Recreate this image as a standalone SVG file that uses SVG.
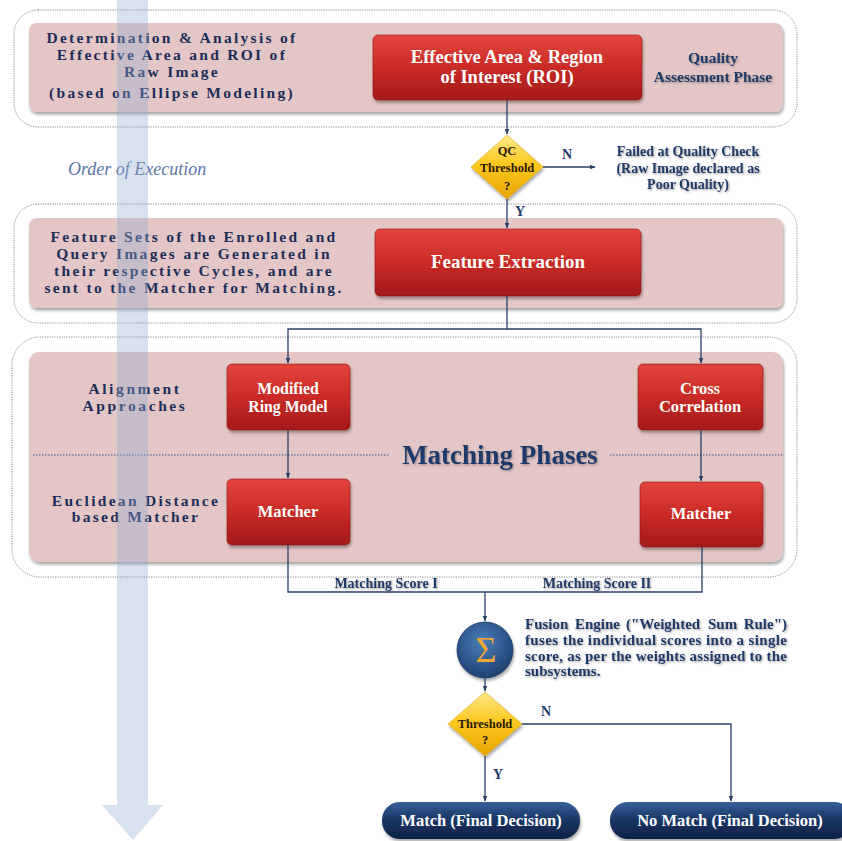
<svg xmlns="http://www.w3.org/2000/svg" width="842" height="841" viewBox="0 0 842 841">
<defs>
<linearGradient id="redG" x1="0" y1="0" x2="0" y2="1">
<stop offset="0" stop-color="#e2453c"/><stop offset="0.5" stop-color="#c92b26"/><stop offset="1" stop-color="#a3191a"/>
</linearGradient>
<linearGradient id="yelG" x1="0" y1="0" x2="0" y2="1">
<stop offset="0" stop-color="#ffe98a"/><stop offset="0.45" stop-color="#fcc820"/><stop offset="1" stop-color="#e9a400"/>
</linearGradient>
<radialGradient id="bluG" cx="0.45" cy="0.35" r="0.7">
<stop offset="0" stop-color="#4b7fb9"/><stop offset="1" stop-color="#1b3c6c"/>
</radialGradient>
<linearGradient id="navG" x1="0" y1="0" x2="0" y2="1">
<stop offset="0" stop-color="#38609a"/><stop offset="0.5" stop-color="#183462"/><stop offset="1" stop-color="#0e2245"/>
</linearGradient>
<filter id="sh" x="-10%" y="-10%" width="130%" height="140%">
<feDropShadow dx="1" dy="2.5" stdDeviation="1.8" flood-color="#000" flood-opacity="0.35"/>
</filter>
<filter id="tsh" x="-10%" y="-30%" width="120%" height="160%">
<feDropShadow dx="1" dy="1.2" stdDeviation="0.9" flood-color="#555" flood-opacity="0.55"/>
</filter>
<marker id="ah" viewBox="0 0 10 10" refX="9" refY="5" markerWidth="6" markerHeight="6" orient="auto" markerUnits="userSpaceOnUse">
<path d="M0,1 L10,5 L0,9 z" fill="#2b3f66"/>
</marker>
<style>
.outer{fill:none;stroke:#8a8a8a;stroke-width:1;stroke-dasharray:1.2 1.2}
.pink{fill:#e5c6c6}
.red{fill:url(#redG);stroke:#8e1414;stroke-width:0.6}
.rt{font-family:"Liberation Serif","Times New Roman",serif;font-weight:bold;fill:#fff;text-anchor:middle}
.lt{font-family:"Liberation Serif","Times New Roman",serif;font-weight:bold;fill:#1c2d5a;text-anchor:middle}
.nt{font-family:"Liberation Serif","Times New Roman",serif;font-weight:bold;fill:#1f3a6a}
.dt{font-family:"Liberation Serif","Times New Roman",serif;font-weight:bold;fill:#2a1a00;text-anchor:middle;font-size:12.5px}
.con{fill:none;stroke:#2b3f66;stroke-width:1.3}
</style>
</defs>
<rect width="842" height="841" fill="#fff"/>

<g id="panel-quality">
<rect class="outer" x="14" y="10" width="783" height="117" rx="24"/>
<rect class="pink" x="29" y="23" width="754" height="89" rx="8" filter="url(#sh)"/>
<text class="lt" font-size="15.5" letter-spacing="2.3"><tspan x="172" y="43">Determination &amp; Analysis of</tspan><tspan x="172" y="60">Effective Area and ROI of</tspan><tspan x="172" y="77">Raw Image</tspan><tspan x="172" y="98">(based on Ellipse Modeling)</tspan></text>
<text class="nt" font-size="15.5" text-anchor="middle" filter="url(#tsh)"><tspan x="713" y="63">Quality</tspan><tspan x="713" y="82">Assessment Phase</tspan></text>
</g>
<g id="node-roi">
<rect class="red" x="373" y="35" width="269" height="65" rx="5" filter="url(#sh)"/>
<text class="rt" font-size="18.5"><tspan x="507" y="63">Effective Area &amp; Region</tspan><tspan x="507" y="83">of Interest (ROI)</tspan></text>
</g>

<g id="node-qc">
<path d="M507,135 L543,167 L507,199 L471,167 z" fill="url(#yelG)" stroke="#d9a000" stroke-width="0.5" filter="url(#sh)"/>
<text class="dt"><tspan x="507" y="155">QC</tspan><tspan x="507" y="172">Threshold</tspan><tspan x="507" y="190">?</tspan></text>
</g>
<g id="label-failed">
<text class="nt" font-size="14" text-anchor="middle" filter="url(#tsh)"><tspan x="688" y="156">Failed at Quality Check</tspan><tspan x="688" y="173">(Raw Image declared as</tspan><tspan x="688" y="189">Poor Quality)</tspan></text>
</g>

<g id="order-label">
<text x="68" y="175" font-family="'Liberation Serif','Times New Roman',serif" font-style="italic" font-size="18" fill="#5a78a8">Order of Execution</text>
</g>

<g id="panel-feature">
<rect class="outer" x="14" y="204" width="783" height="119" rx="24"/>
<rect class="pink" x="29" y="218" width="754" height="90" rx="8" filter="url(#sh)"/>
<text class="lt" font-size="15.5" letter-spacing="2.3"><tspan x="194" y="242">Feature Sets of the Enrolled and</tspan><tspan x="194" y="259">Query Images are Generated in</tspan><tspan x="194" y="276">their respective Cycles, and are</tspan><tspan x="194" y="293">sent to the Matcher for Matching.</tspan></text>
</g>
<g id="node-feature">
<rect class="red" x="375" y="229" width="266" height="67" rx="5" filter="url(#sh)"/>
<text class="rt" font-size="19" x="508" y="268">Feature Extraction</text>
</g>

<g id="panel-matching">
<rect class="outer" x="12" y="337" width="785" height="240" rx="28"/>
<rect class="pink" x="29" y="352" width="754" height="210" rx="10" filter="url(#sh)"/>
<line x1="33" y1="455" x2="390" y2="455" stroke="#3a5285" stroke-width="1" stroke-dasharray="1.5 1.5"/>
<line x1="610" y1="455" x2="783" y2="455" stroke="#3a5285" stroke-width="1" stroke-dasharray="1.5 1.5"/>
<text class="nt" font-size="27" text-anchor="middle" x="500" y="464" filter="url(#tsh)">Matching Phases</text>
<text class="lt" font-size="15.5" letter-spacing="2.6"><tspan x="135" y="394">Alignment</tspan><tspan x="135" y="411">Approaches</tspan></text>
<text class="lt" font-size="15.5" letter-spacing="2.3"><tspan x="136" y="506">Euclidean Distance</tspan><tspan x="136" y="522">based Matcher</tspan></text>
</g>
<g id="node-ring">
<rect class="red" x="227" y="364" width="123" height="66" rx="5" filter="url(#sh)"/>
<text class="rt" font-size="15.8"><tspan x="288" y="394">Modified</tspan><tspan x="288" y="412">Ring Model</tspan></text>
</g>
<g id="node-cross">
<rect class="red" x="638" y="364" width="125" height="66" rx="5" filter="url(#sh)"/>
<text class="rt" font-size="16.5"><tspan x="700" y="394">Cross</tspan><tspan x="700" y="412">Correlation</tspan></text>
</g>
<g id="node-matcher1">
<rect class="red" x="227" y="479" width="123" height="66" rx="5" filter="url(#sh)"/>
<text class="rt" font-size="16.5" x="288" y="517">Matcher</text>
</g>
<g id="node-matcher2">
<rect class="red" x="640" y="482" width="123" height="65" rx="5" filter="url(#sh)"/>
<text class="rt" font-size="16.5" x="701" y="519">Matcher</text>
</g>

<g id="node-fusion">
<circle cx="485" cy="650" r="28" fill="url(#bluG)" stroke="#163363" stroke-width="0.8" filter="url(#sh)"/>
<text x="486" y="662" font-family="'Liberation Serif','Times New Roman',serif" font-size="36" fill="#f2a534" text-anchor="middle">Σ</text>
</g>
<g id="label-fusion" filter="url(#tsh)">
<text class="nt" font-size="15" x="525" y="629">Fusion</text>
<text class="nt" font-size="15" x="575" y="629">Engine</text>
<text class="nt" font-size="15" x="626" y="629">("Weighted</text>
<text class="nt" font-size="15" x="708" y="629">Sum</text>
<text class="nt" font-size="15" x="787" y="629" text-anchor="end">Rule")</text>
<text class="nt" font-size="15" x="525" y="645" textLength="262" lengthAdjust="spacing">fuses the individual scores into a single</text>
<text class="nt" font-size="15" x="525" y="661" textLength="262" lengthAdjust="spacing">score, as per the weights assigned to the</text>
<text class="nt" font-size="15" x="525" y="676">subsystems.</text>
</g>

<g id="node-threshold">
<path d="M485,692 L522,724 L485,756 L448,724 z" fill="url(#yelG)" stroke="#d9a000" stroke-width="0.5" filter="url(#sh)"/>
<text class="dt"><tspan x="485" y="728">Threshold</tspan><tspan x="485" y="744">?</tspan></text>
</g>

<g id="node-match">
<rect x="382" y="802" width="198" height="37" rx="18" fill="url(#navG)" filter="url(#sh)"/>
<text class="rt" font-size="16.5" x="481" y="826">Match (Final Decision)</text>
</g>
<g id="node-nomatch">
<rect x="610" y="802" width="242" height="37" rx="18" fill="url(#navG)" filter="url(#sh)"/>
<text class="rt" font-size="16.5" x="730" y="826">No Match (Final Decision)</text>
</g>

<g id="connectors">
<path class="con" d="M507,100 V134" marker-end="url(#ah)"/>
<path class="con" d="M543,167 H595" marker-end="url(#ah)"/>
<path class="con" d="M507,199 V228" marker-end="url(#ah)"/>
<path class="con" d="M507,296 V329 H288 V363" marker-end="url(#ah)"/>
<path class="con" d="M507,329 H701 V363" marker-end="url(#ah)"/>
<path class="con" d="M288,430 V478" marker-end="url(#ah)"/>
<path class="con" d="M701,430 V481" marker-end="url(#ah)"/>
<path class="con" d="M288,545 V592 H702 V547"/>
<path class="con" d="M485,592 V621" marker-end="url(#ah)"/>
<path class="con" d="M485,678 V691" marker-end="url(#ah)"/>
<path class="con" d="M485,756 V801" marker-end="url(#ah)"/>
<path class="con" d="M522,724 H731 V801" marker-end="url(#ah)"/>
<text class="nt" font-size="14" x="567" y="159" text-anchor="middle">N</text>
<text class="nt" font-size="14" x="520" y="216" text-anchor="middle">Y</text>
<text class="nt" font-size="14" x="386" y="588" text-anchor="middle" filter="url(#tsh)">Matching Score I</text>
<text class="nt" font-size="14" x="597" y="588" text-anchor="middle" filter="url(#tsh)">Matching Score II</text>
<text class="nt" font-size="14" x="546" y="716" text-anchor="middle">N</text>
<text class="nt" font-size="14" x="498" y="779" text-anchor="middle">Y</text>
</g>

<g id="order-arrow">
<path d="M117,0 H148 V805 H163 L133,840 L102,805 H117 z" fill="#92acd4" opacity="0.36"/>
</g>
</svg>
